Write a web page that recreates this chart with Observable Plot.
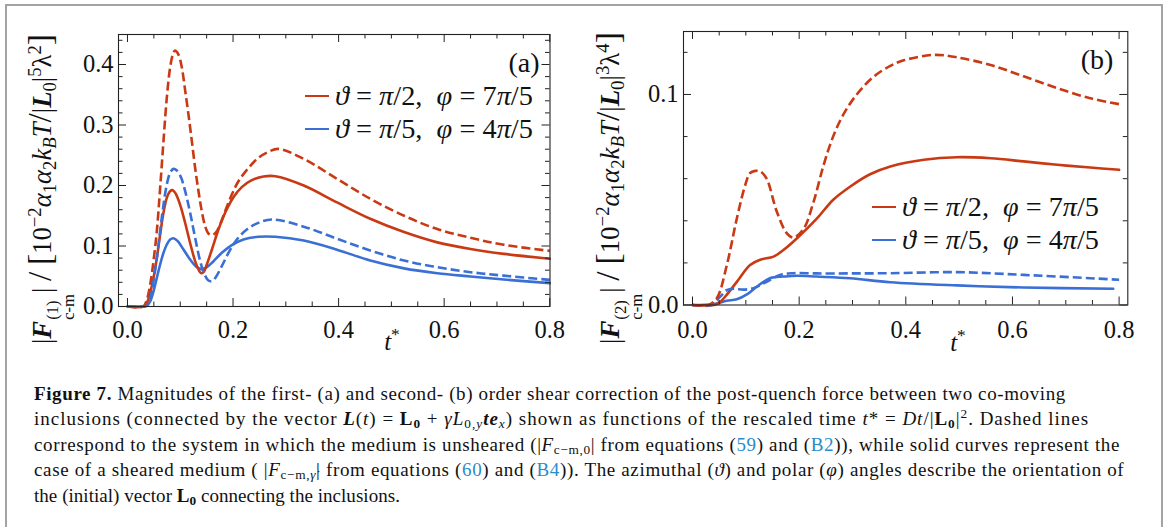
<!DOCTYPE html>
<html><head><meta charset="utf-8">
<script src="https://cdn.jsdelivr.net/npm/d3@7"></script>
<script src="https://cdn.jsdelivr.net/npm/@observablehq/plot@0.6"></script>
<style>
html,body{margin:0;padding:0;background:#fff;width:1165px;height:527px;overflow:hidden}
#page{position:relative;width:1165px;height:527px;font-family:"Liberation Serif",serif;color:#111}
#border{position:absolute;left:5px;top:4px;width:1154px;height:600px;border:2px solid #a3a3a3}
.panel{position:absolute;top:0}
.panel svg{overflow:visible}
.panel svg text{font-family:"Liberation Serif",serif !important}
.abs{position:absolute;white-space:nowrap;line-height:1}
.ytitle{position:absolute;white-space:nowrap;line-height:1;transform:translate(-50%,-50%) rotate(-90deg);font-size:20px}
.stk{display:inline-flex;flex-direction:column;vertical-align:-0.42em;font-size:0.62em;line-height:0.95;margin:0 0.06em}
sub,sup{font-size:0.7em;line-height:0}
sub{vertical-align:-0.25em}
sup{vertical-align:0.55em}
.big{font-size:1.25em}
.leg{position:absolute;display:flex;align-items:center;white-space:nowrap;line-height:1;font-size:22px}
.leg .ln{display:inline-block;width:24px;height:2.6px;margin-right:6px}
.cap{position:absolute;left:34px;white-space:nowrap;font-size:19px;line-height:25px}
.lk{color:#2a8cc9}
</style></head><body><div id="page">
<div id="border"></div>
<div id="pA" class="panel" style="left:0px"></div>
<div id="pB" class="panel" style="left:600px"></div>

<div id="yA" class="ytitle">|<b><i>F</i></b><span class="stk"><span>(1)</span><span>c-m</span></span>| <span class="big">/</span> <span class="big">[</span>10<sup>−2</sup><i>α</i><sub>1</sub><i>α</i><sub>2</sub><i>k</i><sub><i>B</i></sub><i>T</i><span class="big">/</span>|<b><i>L</i></b><sub>0</sub>|<sup>5</sup>λ<sup>2</sup><span class="big">]</span></div>
<div id="yB" class="ytitle">|<b><i>F</i></b><span class="stk"><span>(2)</span><span>c-m</span></span>| <span class="big">/</span> <span class="big">[</span>10<sup>−2</sup><i>α</i><sub>1</sub><i>α</i><sub>2</sub><i>k</i><sub><i>B</i></sub><i>T</i><span class="big">/</span>|<b><i>L</i></b><sub>0</sub>|<sup>3</sup>λ<sup>4</sup><span class="big">]</span></div>

<div id="xA" class="abs" style="font-size:25px"><i>t</i><sup>*</sup></div>
<div id="xB" class="abs" style="font-size:25px"><i>t</i><sup>*</sup></div>
<div id="lblA" class="abs" style="font-size:28px">(a)</div>
<div id="lblB" class="abs" style="font-size:28px">(b)</div>

<div id="legA1" class="leg"><span class="ln lnr"></span><span class="lt"><i>ϑ</i> = <i>π</i>/2, &nbsp;<i>φ</i> = 7<i>π</i>/5</span></div>
<div id="legA2" class="leg"><span class="ln lnb"></span><span class="lt"><i>ϑ</i> = <i>π</i>/5, &nbsp;<i>φ</i> = 4<i>π</i>/5</span></div>
<div id="legB1" class="leg"><span class="ln lnr"></span><span class="lt"><i>ϑ</i> = <i>π</i>/2, &nbsp;<i>φ</i> = 7<i>π</i>/5</span></div>
<div id="legB2" class="leg"><span class="ln lnb"></span><span class="lt"><i>ϑ</i> = <i>π</i>/5, &nbsp;<i>φ</i> = 4<i>π</i>/5</span></div>

<div class="cap" id="c1"><b>Figure 7.</b> Magnitudes of the first- (a) and second- (b) order shear correction of the post-quench force between two co-moving</div>
<div class="cap" id="c2">inclusions (connected by the vector <b><i>L</i></b>(<i>t</i>) = <b>L<sub>0</sub></b> + <i>γ̇L</i><sub>0,<i>y</i></sub><b><i>te</i></b><sub><i>x</i></sub>) shown as functions of the rescaled time <i>t</i>* = <i>Dt</i>/|<b>L<sub>0</sub></b>|<sup>2</sup>. Dashed lines</div>
<div class="cap" id="c3">correspond to the system in which the medium is unsheared (|<i>F</i><sub>c−m,0</sub>| from equations (<span class="lk">59</span>) and (<span class="lk">B2</span>)), while solid curves represent the</div>
<div class="cap" id="c4">case of a sheared medium ( |<i>F</i><sub>c−m,<i>γ̇</i></sub>| from equations (<span class="lk">60</span>) and (<span class="lk">B4</span>)). The azimuthal (<i>ϑ</i>) and polar (<i>φ</i>) angles describe the orientation of</div>
<div class="cap" id="c5">the (initial) vector <b>L<sub>0</sub></b> connecting the inclusions.</div>
</div>
<script>
// ---------- data: panel (a), first order ----------
const tA_redDashed = [0, 0.03, 0.037, 0.043, 0.0493, 0.0556, 0.0619, 0.0682, 0.0745, 0.0808, 0.0859, 0.090, 0.0966, 0.103, 0.109, 0.1156, 0.122, 0.1282, 0.1345, 0.1408, 0.1471, 0.1534, 0.160, 0.1673, 0.1755, 0.185, 0.1977, 0.2103, 0.2293, 0.248, 0.267, 0.286, 0.334, 0.397, 0.46, 0.524, 0.587, 0.65, 0.713, 0.8];
const vA_redDashed = [0, 0, 0.012, 0.036, 0.075, 0.1245, 0.196, 0.273, 0.345, 0.395, 0.4165, 0.423, 0.4165, 0.395, 0.359, 0.317, 0.273, 0.229, 0.191, 0.1575, 0.133, 0.1207, 0.118, 0.122, 0.1355, 0.1575, 0.185, 0.207, 0.229, 0.2457, 0.2556, 0.2605, 0.244, 0.211, 0.178, 0.150, 0.128, 0.1135, 0.102, 0.092];
const tA_redSolid = [0, 0.03, 0.0366, 0.043, 0.0493, 0.0556, 0.0619, 0.0682, 0.0745, 0.0808, 0.0859, 0.0916, 0.0998, 0.1093, 0.1187, 0.1282, 0.1345, 0.1396, 0.1446, 0.1503, 0.16, 0.1724, 0.185, 0.2008, 0.2166, 0.2356, 0.2577, 0.28, 0.334, 0.397, 0.46, 0.524, 0.587, 0.65, 0.713, 0.8];
const vA_redSolid = [0, 0, 0.006, 0.0226, 0.0474, 0.080, 0.119, 0.155, 0.1796, 0.1906, 0.1923, 0.186, 0.168, 0.138, 0.105, 0.0749, 0.0612, 0.0551, 0.0573, 0.0694, 0.0942, 0.1273, 0.155, 0.1807, 0.1973, 0.2088, 0.2149, 0.2154, 0.2, 0.172, 0.145, 0.123, 0.106, 0.095, 0.087, 0.079];
const tA_blueDashed = [0, 0.03, 0.0366, 0.043, 0.0493, 0.0556, 0.0619, 0.0682, 0.0745, 0.0808, 0.0871, 0.0935, 0.1017, 0.1093, 0.1187, 0.1282, 0.1377, 0.1459, 0.1534, 0.16, 0.1673, 0.1787, 0.1914, 0.2072, 0.2261, 0.248, 0.2734, 0.334, 0.397, 0.46, 0.524, 0.587, 0.65, 0.713, 0.8];
const vA_blueDashed = [0, 0, 0.002, 0.0138, 0.0419, 0.080, 0.1245, 0.168, 0.2017, 0.221, 0.2275, 0.2248, 0.2127, 0.1906, 0.155, 0.1135, 0.075, 0.053, 0.043, 0.0419, 0.0485, 0.0667, 0.0887, 0.1107, 0.1273, 0.1383, 0.1438, 0.132, 0.112, 0.0926, 0.076, 0.065, 0.0567, 0.051, 0.044];
const tA_blueSolid = [0, 0.03, 0.0366, 0.043, 0.0493, 0.0556, 0.0619, 0.0682, 0.0745, 0.0808, 0.0871, 0.0953, 0.1061, 0.1187, 0.1314, 0.1408, 0.1503, 0.163, 0.1787, 0.1977, 0.2198, 0.248, 0.28, 0.334, 0.397, 0.46, 0.524, 0.587, 0.65, 0.713, 0.8];
const vA_blueSolid = [0, 0, 0.001, 0.0083, 0.025, 0.0474, 0.0694, 0.0887, 0.1025, 0.1107, 0.1129, 0.108, 0.0942, 0.0777, 0.065, 0.0617, 0.065, 0.0749, 0.0887, 0.1014, 0.1107, 0.1152, 0.1152, 0.109, 0.094, 0.076, 0.063, 0.055, 0.0496, 0.0446, 0.0386];

// ---------- data: panel (b), second order ----------
const tB_redDashed = [0, 0.03, 0.0456, 0.0644, 0.083, 0.099, 0.108, 0.1175, 0.127, 0.139, 0.158, 0.177, 0.189, 0.208, 0.227, 0.246, 0.264, 0.283, 0.308, 0.339, 0.371, 0.396, 0.4525, 0.496, 0.559, 0.621, 0.684, 0.746, 0.8];
const vB_redDashed = [0, 0, 0.0032, 0.019, 0.041, 0.0571, 0.0627, 0.0637, 0.0635, 0.060, 0.0444, 0.034, 0.032, 0.036, 0.049, 0.0666, 0.0802, 0.0905, 0.1, 0.1083, 0.1136, 0.1162, 0.1188, 0.1176, 0.114, 0.1086, 0.103, 0.0982, 0.0954];
const tB_redSolid = [0, 0.04, 0.052, 0.064, 0.0831, 0.108, 0.127, 0.152, 0.171, 0.196, 0.233, 0.264, 0.296, 0.333, 0.371, 0.434, 0.496, 0.559, 0.621, 0.684, 0.746, 0.8];
const vB_redSolid = [0, 0, 0.0015, 0.0048, 0.011, 0.019, 0.0215, 0.023, 0.0262, 0.0317, 0.041, 0.050, 0.0563, 0.0621, 0.0658, 0.069, 0.0702, 0.0697, 0.0682, 0.0666, 0.0653, 0.0642];
const tB_blueDashed = [0, 0.035, 0.052, 0.064, 0.077, 0.096, 0.1144, 0.139, 0.164, 0.189, 0.233, 0.296, 0.371, 0.496, 0.621, 0.8];
const vB_blueDashed = [0, 0, 0.004, 0.007, 0.0077, 0.0073, 0.008, 0.011, 0.0143, 0.0151, 0.015, 0.015, 0.0151, 0.0156, 0.0143, 0.012];
const tB_blueSolid = [0, 0.04, 0.064, 0.083, 0.102, 0.121, 0.146, 0.171, 0.196, 0.233, 0.296, 0.371, 0.496, 0.621, 0.789];
const vB_blueSolid = [0, 0.0005, 0.002, 0.0027, 0.005, 0.0088, 0.0128, 0.0135, 0.0139, 0.0135, 0.0127, 0.0108, 0.0093, 0.0083, 0.0077];

// ---------- ticks ----------
const xMajor = [0, 0.2, 0.4, 0.6, 0.8];
const xMinor = [0.05, 0.1, 0.15, 0.25, 0.3, 0.35, 0.45, 0.5, 0.55, 0.65, 0.7, 0.75];
const yMajorA = [0, 0.1, 0.2, 0.3, 0.4];
const yMinorA = [0.02, 0.04, 0.06, 0.08, 0.12, 0.14, 0.16, 0.18, 0.22, 0.24, 0.26, 0.28, 0.32, 0.34, 0.36, 0.38, 0.42, 0.44];
const yMajorB = [0, 0.1];
const yMinorB = [0.02, 0.04, 0.06, 0.08, 0.12];

const RED = "#c93a14", BLUE = "#3a6fd6";
const rows = (ts, vs) => ts.map((t, i) => ({t, v: vs[i]}));
const fmt = d3.format(".1f");
const SERIF = "Liberation Serif";

function panel(o) {
  const fw = o.width - o.mL - o.mR, fh = o.height - o.mT - o.mB;
  const tk = "#222";
  const line = (ts, vs, color, dashed) => Plot.line(rows(ts, vs), {
    x: "t", y: "v", stroke: color, strokeWidth: 2.6, curve: "catmull-rom",
    strokeDasharray: dashed ? "9,4" : null, strokeLinecap: dashed ? "butt" : "round"
  });
  return Plot.plot({
    width: o.width, height: o.height,
    marginLeft: o.mL, marginRight: o.mR, marginTop: o.mT, marginBottom: o.mB,
    x: {domain: o.xDomain}, y: {domain: o.yDomain},
    style: {fontFamily: SERIF, color: "#111", background: "transparent", overflow: "visible"},
    marks: [
      ...o.series.map(s => line(s[0], s[1], s[2], s[3])),
      Plot.tickX(xMajor, {x: d => d, insetTop: fh - 8, stroke: tk}),
      Plot.tickX(xMajor, {x: d => d, insetBottom: fh - 8, stroke: tk}),
      Plot.tickX(xMinor, {x: d => d, insetTop: fh - 4.5, stroke: tk}),
      Plot.tickX(xMinor, {x: d => d, insetBottom: fh - 4.5, stroke: tk}),
      Plot.tickY(o.yMajor, {y: d => d, insetRight: fw - 8, stroke: tk}),
      Plot.tickY(o.yMajor, {y: d => d, insetLeft: fw - 8, stroke: tk}),
      Plot.tickY(o.yMinor, {y: d => d, insetRight: fw - 4.5, stroke: tk}),
      Plot.tickY(o.yMinor, {y: d => d, insetLeft: fw - 4.5, stroke: tk}),
      Plot.axisX(xMajor, {tickSize: 0, tickPadding: o.xPad, tickFormat: fmt, fontSize: 24.5, fontFamily: SERIF, label: null}),
      Plot.axisY(o.yMajor, {tickSize: 0, tickPadding: 5, tickFormat: fmt, fontSize: 24.5, fontFamily: SERIF, label: null}),
      Plot.frame({stroke: tk, strokeWidth: 1.1})
    ]
  });
}

document.getElementById("pA").append(panel({
  width: 580, height: 352, mL: 118, mR: 30.5, mT: 34, mB: 46, xPad: 14,
  xDomain: [-0.017, 0.8005], yDomain: [0, 0.4496], yMajor: yMajorA, yMinor: yMinorA,
  series: [
    [tA_blueSolid, vA_blueSolid, BLUE, false],
    [tA_redSolid, vA_redSolid, RED, false],
    [tA_blueDashed, vA_blueDashed, BLUE, true],
    [tA_redDashed, vA_redDashed, RED, true]
  ]
}));
document.getElementById("pB").append(panel({
  width: 550, height: 352, mL: 83, mR: 22.7, mT: 31, mB: 47.5, xPad: 15.5,
  xDomain: [-0.0169, 0.8163], yDomain: [0, 0.1299], yMajor: yMajorB, yMinor: yMinorB,
  series: [
    [tB_blueSolid, vB_blueSolid, BLUE, false],
    [tB_redSolid, vB_redSolid, RED, false],
    [tB_blueDashed, vB_blueDashed, BLUE, true],
    [tB_redDashed, vB_redDashed, RED, true]
  ]
}));

document.querySelectorAll(".lnr").forEach(e => e.style.background = RED);
document.querySelectorAll(".lnb").forEach(e => e.style.background = BLUE);

// ---------- text placement helpers ----------
function center(id, cx, cy) {
  const el = document.getElementById(id);
  const r = el.getBoundingClientRect();
  el.style.left = (cx - r.width / 2) + "px";
  el.style.top = (cy - r.height / 2) + "px";
}
function fitWidth(el, target) {
  const fs = parseFloat(getComputedStyle(el).fontSize);
  const w = el.getBoundingClientRect().width;
  el.style.fontSize = (fs * target / w) + "px";
}
function ytitle(id, cx, cy, len) {
  const el = document.getElementById(id);
  el.style.left = cx + "px"; el.style.top = cy + "px";
  const w = el.offsetWidth;
  el.style.fontSize = (20 * len / w) + "px";
}
ytitle("yA", 50, 189, 310);
ytitle("yB", 618, 188, 312);

center("xA", 392, 341);
center("xB", 958, 342);
center("lblA", 524, 63);
center("lblB", 1097, 60);

function legend(id, x0, cy, textW) {
  const el = document.getElementById(id);
  fitWidth(el.querySelector(".lt"), textW);
  const r = el.getBoundingClientRect();
  el.style.left = x0 + "px";
  el.style.top = (cy - r.height / 2) + "px";
}
legend("legA1", 305, 96, 198);
legend("legA2", 305, 129, 198);
legend("legB1", 872, 207, 197);
legend("legB2", 872, 240, 197);

// caption: baselines and right edges
const capBase = [400, 425.5, 451, 476.5, 502];
const capRight = [1066, 1090, 1120, 1125, 400];
["c1","c2","c3","c4","c5"].forEach((id, i) => {
  const el = document.getElementById(id);
  el.style.top = (capBase[i] - 19.4) + "px";
  const w = el.getBoundingClientRect().width;
  const n = el.textContent.length;
  el.style.letterSpacing = ((capRight[i] - 34 - w) / n) + "px";
});
</script>
</body></html>
